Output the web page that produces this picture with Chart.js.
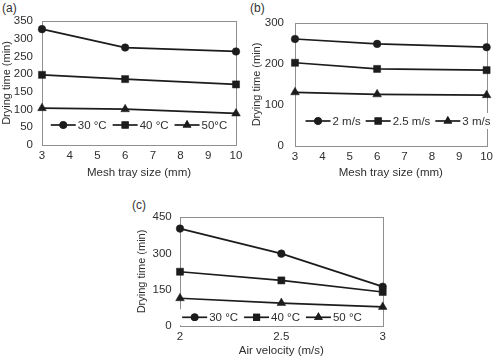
<!DOCTYPE html>
<html>
<head>
<meta charset="utf-8">
<script src="https://cdn.jsdelivr.net/npm/chart.js@4/dist/chart.umd.min.js"></script>
<style>
  html, body { margin: 0; padding: 0; background: #fff; overflow: hidden; }
  body { width: 497px; height: 357px; position: relative; font-family: "Liberation Sans", Arial, sans-serif; }
  .wrap { position: absolute; }
  .lab { position: absolute; font-size: 12px; color: #333; font-family: "Liberation Sans", Arial, sans-serif; }
</style>
</head>
<body>
<div class="lab" style="left:2px;top:1px;">(a)</div>
<div class="lab" style="left:250px;top:1px;">(b)</div>
<div class="lab" style="left:132px;top:198px;">(c)</div>
<div class="wrap" style="left:0px;top:0px;width:248px;height:180px;"><canvas id="ca"></canvas></div>
<div class="wrap" style="left:248px;top:0px;width:249px;height:180px;"><canvas id="cb"></canvas></div>
<div class="wrap" style="left:120px;top:185px;width:280px;height:173px;"><canvas id="cc"></canvas></div>
<script>
// ---- Data ----
const meshSizes = [3, 6, 10];
const velocities = [2, 2.5, 3];

// (a) drying time vs mesh tray size at different temperatures
const aLabels = ["30 °C", "40 °C", "50°C"];
const a30 = [327, 275, 264];
const a40 = [198, 186, 171];
const a50 = [104, 101, 89];

// (b) drying time vs mesh tray size at different air velocities
const bLabels = ["2 m/s", "2.5 m/s", "3 m/s"];
const b2 = [261, 249, 241];
const b25 = [203, 188, 185];
const b3 = [131, 126, 124];

// (c) drying time vs air velocity at different temperatures
const cLabels = ["30 °C", "40 °C", "50 °C"];
const c30 = [403, 299, 162];
const c40 = [224, 188, 140];
const c50 = [114, 94, 78];

const yTicksA = [0, 350, 50];
const yTicksB = [0, 300, 100];
const yTicksC = [0, 450, 150];

// ---- Styling ----
const INK = '#1c1c1c';
const TEXT = '#2e2e2e';
const FRAME = '#8f8f8f';
const FONT = "'Liberation Sans', Arial, sans-serif";
const markers = ['circle', 'rect', 'triangle'];
const radii = [3.8, 5, 5];

function mkData(xs, series, labels) {
  return {
    datasets: series.map((s, i) => ({
      label: labels[i],
      data: xs.map((x, j) => ({ x: x, y: s[j] })),
      borderColor: INK,
      backgroundColor: INK,
      borderWidth: 1.7,
      pointStyle: markers[i],
      pointRadius: radii[i],
      pointHoverRadius: radii[i],
      pointBackgroundColor: INK,
      pointBorderColor: INK,
      pointBorderWidth: 0.5,
      tension: 0,
      clip: false
    }))
  };
}

const framePlugin = {
  id: 'frame',
  beforeDatasetsDraw(chart) {
    const { ctx, chartArea: a } = chart;
    ctx.save();
    ctx.strokeStyle = FRAME;
    ctx.lineWidth = 1;
    ctx.strokeRect(Math.round(a.left) + 0.5, Math.round(a.top) + 0.5,
      Math.round(a.right) - Math.round(a.left), Math.round(a.bottom) - Math.round(a.top));
    ctx.restore();
  }
};

const legendPlugin = {
  id: 'innerLegend',
  afterDatasetsDraw(chart, args, opts) {
    const { ctx, chartArea: a } = chart;
    ctx.save();
    ctx.font = '11.5px ' + FONT;
    const lineLen = 25, tGap = 2, iGap = opts.gap || 6;
    const items = chart.data.datasets.map(d => ({ label: d.label, w: lineLen + tGap + ctx.measureText(d.label).width }));
    const total = items.reduce((s, it) => s + it.w, 0) + iGap * (items.length - 1);
    let x = opts.cx - total / 2;
    const y = a.bottom - opts.dy;
    ctx.fillStyle = '#fff';
    ctx.fillRect(x - 4, y - 8, total + 8, 16);
    chart.data.datasets.forEach((d, i) => {
      ctx.strokeStyle = INK;
      ctx.lineWidth = 1.7;
      ctx.beginPath();
      ctx.moveTo(x, y);
      ctx.lineTo(x + lineLen, y);
      ctx.stroke();
      ctx.fillStyle = INK;
      Chart.helpers.drawPoint(ctx, { pointStyle: markers[i], radius: radii[i], rotation: 0, borderWidth: 0 }, x + lineLen / 2, y);
      ctx.fill();
      ctx.fillStyle = TEXT;
      ctx.textBaseline = 'middle';
      ctx.textAlign = 'left';
      ctx.fillText(d.label, x + lineLen + tGap, y + 0.5);
      x += items[i].w + iGap;
    });
    ctx.restore();
  }
};

function mkChart(id, cfg) {
  return new Chart(document.getElementById(id), {
    type: 'line',
    data: mkData(cfg.xs, cfg.series, cfg.labels),
    plugins: [framePlugin, legendPlugin],
    options: {
      responsive: true,
      maintainAspectRatio: false,
      animation: false,
      events: [],
      layout: { padding: cfg.pad },
      plugins: {
        legend: { display: false },
        tooltip: { enabled: false },
        innerLegend: cfg.legend
      },
      scales: {
        x: {
          type: 'linear',
          min: cfg.xr[0], max: cfg.xr[1],
          offset: false,
          grid: { display: false, drawTicks: false },
          border: { display: false },
          ticks: { stepSize: cfg.xr[2], color: TEXT, font: { family: FONT, size: 11.5 }, padding: 4, maxRotation: 0,
                   callback: v => String(Math.round(v * 10) / 10) },
          title: { display: true, text: cfg.xTitle, color: TEXT, font: { family: FONT, size: 11.5 }, padding: { top: 0, bottom: 0 } },
          afterFit: s => { s.height = cfg.xH; }
        },
        y: {
          min: cfg.yr[0], max: cfg.yr[1],
          grid: { display: false, drawTicks: false },
          border: { display: false },
          ticks: { stepSize: cfg.yr[2], color: TEXT, font: { family: FONT, size: 11.5 }, padding: cfg.yPad },
          title: { display: true, text: 'Drying time (min)', color: TEXT, font: { family: FONT, size: 11 }, padding: { top: cfg.yTitlePad, bottom: 0 } },
          afterFit: s => { s.width = cfg.yW; }
        }
      }
    }
  });
}

mkChart('ca', {
  xs: meshSizes, series: [a30, a40, a50], labels: aLabels,
  xr: [3, 10, 1], yr: yTicksA, xTitle: 'Mesh tray size (mm)',
  pad: { top: 21, right: 12, left: 0, bottom: 0 }, xH: 35, yW: 42, yPad: 9, yTitlePad: 0,
  legend: { cx: 139, dy: 20, gap: 6 }
});
mkChart('cb', {
  xs: meshSizes, series: [b2, b25, b3], labels: bLabels,
  xr: [3, 10, 1], yr: yTicksB, xTitle: 'Mesh tray size (mm)',
  pad: { top: 23, right: 7, left: 0, bottom: 0 }, xH: 34, yW: 47, yPad: 11, yTitlePad: 2.4,
  legend: { cx: 150, dy: 25, gap: 5 }
});
mkChart('cc', {
  xs: velocities, series: [c30, c40, c50], labels: cLabels,
  xr: [2, 3, 0.5], yr: yTicksC, xTitle: 'Air velocity (m/s)',
  pad: { top: 32.3, right: 17.3, left: 15, bottom: 0 }, xH: 32.3, yW: 45, yPad: 8.3, yTitlePad: 0,
  legend: { cx: 152, dy: 8.4, gap: 6 }
});
</script>
</body>
</html>
